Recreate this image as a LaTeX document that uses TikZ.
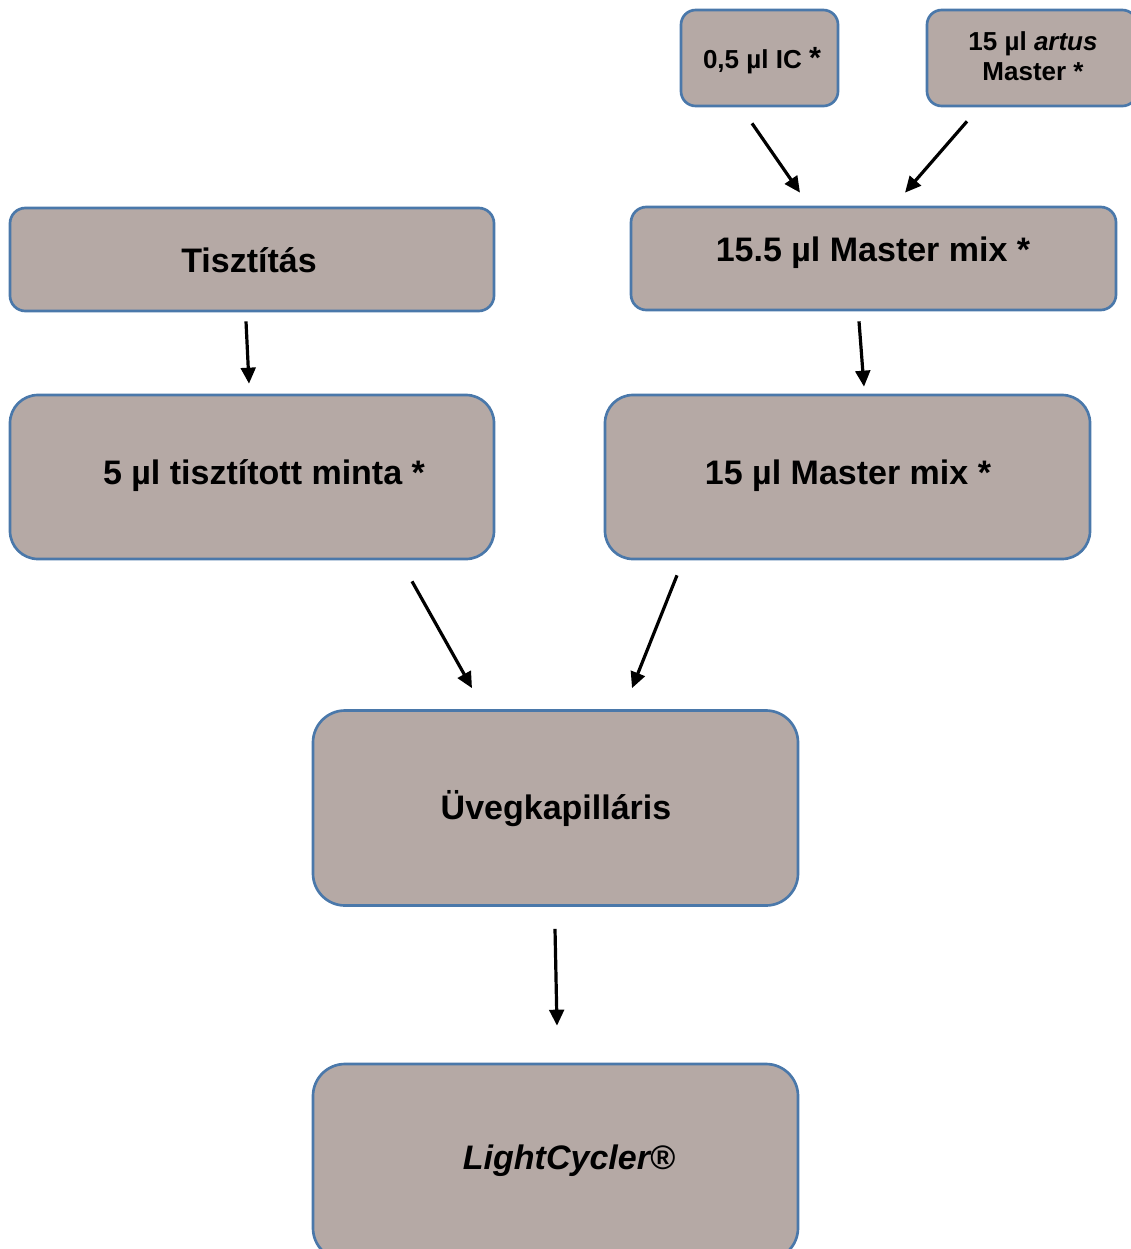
\documentclass[tikz,border=0pt]{standalone}
\usepackage{fontspec}
\setmainfont{Liberation Sans}
\usetikzlibrary{arrows.meta,calc}
\definecolor{boxfill}{HTML}{B5A9A5}
\definecolor{boxline}{HTML}{4A78AA}
\begin{document}
\begin{tikzpicture}[x=0.75pt,y=-0.75pt,
  box/.style={draw=boxline,fill=boxfill,line width=2pt,inner sep=0pt,rectangle},
  big/.style={font=\fontsize{25.5pt}{30pt}\selectfont\bfseries},
  small/.style={font=\fontsize{19.5pt}{22.5pt}\selectfont\bfseries,align=center},
  arr/.style={line width=2.4pt,-{Triangle[length=12pt,width=11pt]}}]
\useasboundingbox (0,0) rectangle (1131,1249);
\begin{scope}
\clip (0,0) rectangle (1131,1249);
% boxes
\node[box,rounded corners=11pt,minimum width=117.75pt,minimum height=72pt] (ic) at (759.5,58) {};
\node[box,rounded corners=11pt,minimum width=157.5pt,minimum height=72pt] (artus) at (1032,58) {};
\node[box,rounded corners=11.5pt,minimum width=363pt,minimum height=77.25pt] (tiszt) at (252,259.5) {};
\node[box,rounded corners=11.5pt,minimum width=363.75pt,minimum height=77.25pt] (mm155) at (873.5,258.5) {};
\node[box,rounded corners=21pt,minimum width=363pt,minimum height=123pt] (minta) at (252,477) {};
\node[box,rounded corners=21pt,minimum width=363.75pt,minimum height=123pt] (mm15) at (847.5,477) {};
\node[box,rounded corners=24pt,minimum width=363.75pt,minimum height=146.25pt] (uveg) at (555.5,808) {};
\node[box,rounded corners=24pt,minimum width=363.75pt,minimum height=147pt] (lc) at (555.5,1162) {};
\end{scope}
% texts
\node[small] (icT) at (762,61) {0,5 µl IC {\fontsize{23pt}{23pt}\selectfont *}};
\node[small] (artusT) at (1033,56) {15 µl \textit{artus}\\Master *};
\node[big] (tisztT) at (249,260) {Tisztítás};
\node[big] (mm155T) at (873,253) {15.5 µl Master mix *};
\node[big] (mintaT) at (264,476) {5 µl tisztított minta *};
\node[big] (mm15T) at (848,476) {15 µl Master mix *};
\node[big] (uvegT) at (556,809) {Üvegkapilláris};
\node[big] (lcT) at (569,1161) {\textit{LightCycler®}};
% arrows
\draw[arr] ($(ic.south)+(-7.5,16)$) -- ($(mm155.north)+(-73.5,-13)$);
\draw[arr] ($(artus.south)+(-65,14)$) -- ($(mm155.north)+(31.5,-13)$);
\draw[arr] ($(tiszt.south)+(-6,9)$) -- ($(minta.north)+(-3,-10)$);
\draw[arr] ($(mm155.south)+(-14.5,10)$) -- ($(mm15.north)+(16.5,-7)$);
\draw[arr] ($(minta.south)+(160,21)$) -- ($(uveg.north)+(-83.5,-21)$);
\draw[arr] ($(mm15.south)+(-170.5,15)$) -- ($(uveg.north)+(76.5,-21)$);
\draw[arr] ($(uveg.south)+(-0.5,22)$) -- ($(lc.north)+(1.5,-37)$);
\end{tikzpicture}
\end{document}
